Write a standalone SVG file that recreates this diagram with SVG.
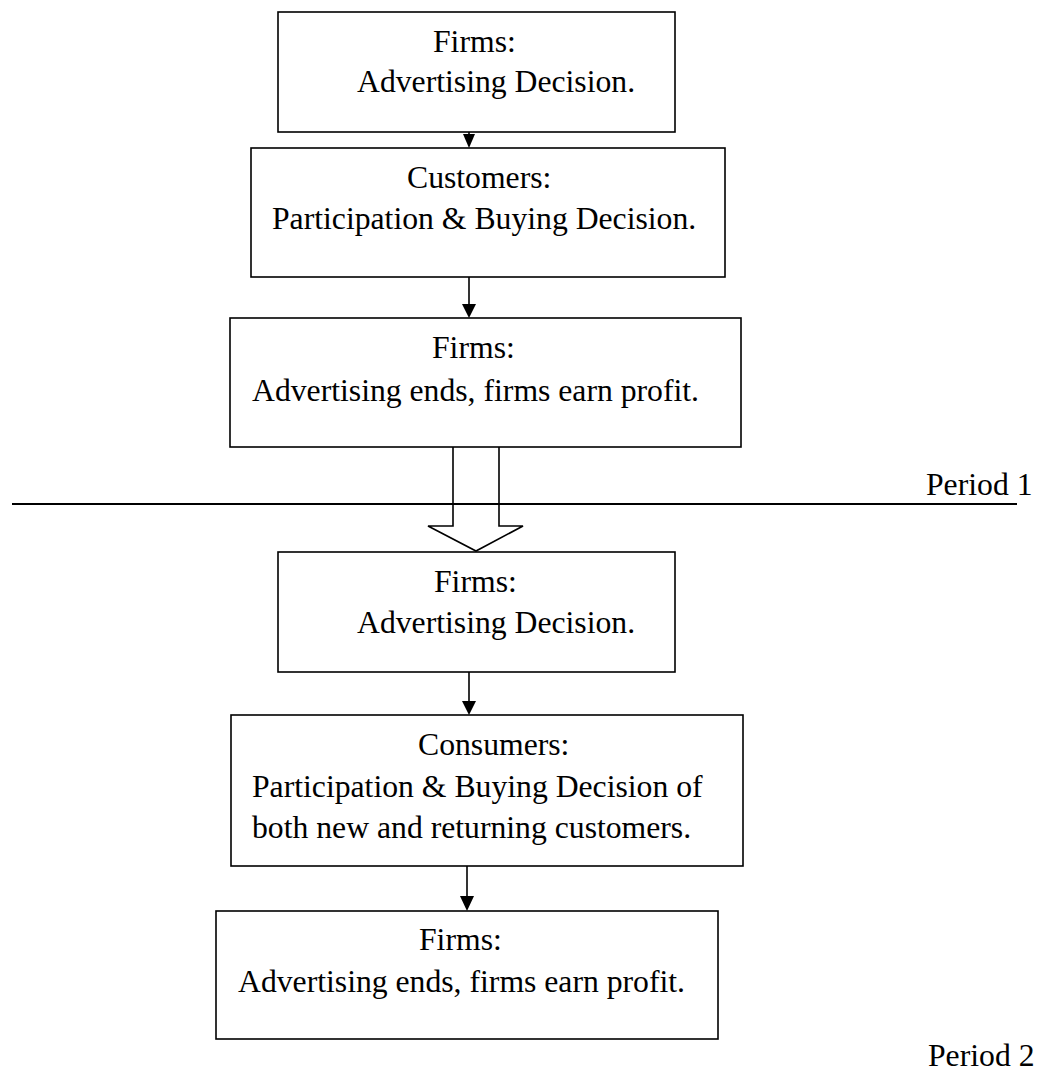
<svg xmlns="http://www.w3.org/2000/svg" width="1037" height="1074" viewBox="0 0 1037 1074">
  <style>
    .box { fill: none; stroke: #000; stroke-width: 1.6; }
    .lbl { font-family: "Liberation Serif", "Times New Roman", serif; font-size: 31.7px; fill: #000; }
    .link { stroke: #000; stroke-width: 1.6; fill: none; }
    .divider { stroke: #000; stroke-width: 2.2; }
  </style>
  <defs>
    <marker id="head" markerUnits="userSpaceOnUse" markerWidth="14" markerHeight="15" refX="7" refY="14" orient="auto-start-reverse" viewBox="0 0 14 15">
      <path d="M0,0 L14,0 L7,15 Z" fill="#000" transform="rotate(-90 7 7.5)"/>
    </marker>
  </defs>
  <rect width="1037" height="1074" fill="#fff"/>

  <!-- Period 1 -->
  <g id="p1-firms-advertising">
    <rect class="box" x="278" y="12" width="397" height="120"/>
    <text class="lbl" x="433" y="52">Firms:</text>
    <text class="lbl" x="357" y="92">Advertising Decision.</text>
  </g>
  <g id="p1-customers">
    <rect class="box" x="251" y="148" width="474" height="129"/>
    <text class="lbl" x="407" y="188">Customers:</text>
    <text class="lbl" x="272" y="229">Participation &amp; Buying Decision.</text>
  </g>
  <g id="p1-firms-profit">
    <rect class="box" x="230" y="318" width="511" height="129"/>
    <text class="lbl" x="432" y="358">Firms:</text>
    <text class="lbl" x="252" y="401">Advertising ends, firms earn profit.</text>
  </g>

  <!-- Period separator -->
  <g id="separator">
    <line class="divider" x1="12" y1="504" x2="1017" y2="504"/>
    <text class="lbl" x="926" y="495">Period 1</text>
  </g>

  <!-- Period 2 -->
  <g id="p2-firms-advertising">
    <rect class="box" x="278" y="552" width="397" height="120"/>
    <text class="lbl" x="434" y="592">Firms:</text>
    <text class="lbl" x="357" y="633">Advertising Decision.</text>
  </g>
  <g id="p2-consumers">
    <rect class="box" x="231" y="715" width="512" height="151"/>
    <text class="lbl" x="418" y="755">Consumers:</text>
    <text class="lbl" x="252" y="797">Participation &amp; Buying Decision of</text>
    <text class="lbl" x="252" y="838">both new and returning customers.</text>
  </g>
  <g id="p2-firms-profit">
    <rect class="box" x="216" y="911" width="502" height="128"/>
    <text class="lbl" x="419" y="950">Firms:</text>
    <text class="lbl" x="238" y="992">Advertising ends, firms earn profit.</text>
  </g>
  <g id="period2-label">
    <text class="lbl" x="928" y="1066">Period 2</text>
  </g>

  <!-- Connectors -->
  <g id="connectors">
    <path d="M469,132 L469,134" class="link"/>
    <polygon points="463,134 475,134 469,148" fill="#000"/>
    <line class="link" x1="469" y1="277" x2="469" y2="305"/>
    <polygon points="462,304 476,304 469,318" fill="#000"/>
    <line class="link" x1="469" y1="672" x2="469" y2="702"/>
    <polygon points="462,701 476,701 469,715" fill="#000"/>
    <line class="link" x1="467" y1="866" x2="467" y2="897"/>
    <polygon points="460,896 474,896 467,911" fill="#000"/>
    <!-- hollow block arrow between periods -->
    <path class="link" d="M453,447 L453,526 L428,526 L476,551 L523,526 L499,526 L499,447"/>
  </g>
</svg>
